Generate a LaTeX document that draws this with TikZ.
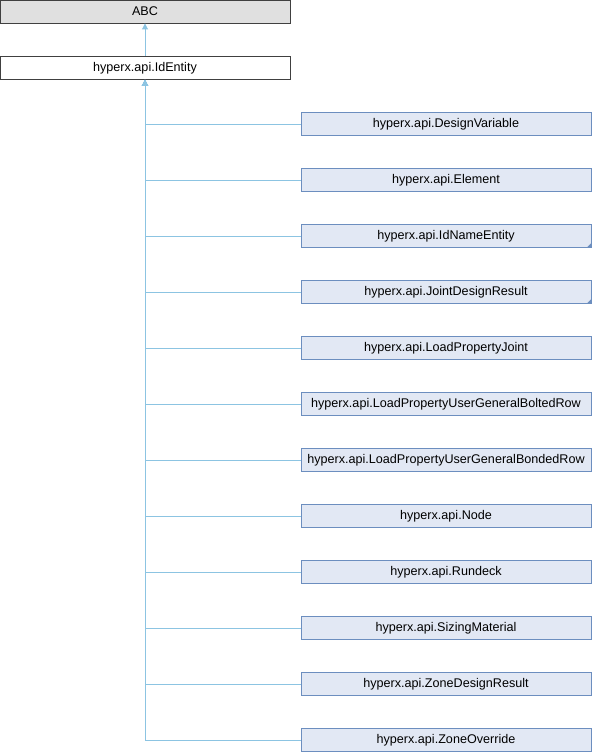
\documentclass[tikz,border=0pt]{standalone}
\usepackage{fontspec}
\setmainfont{Liberation Sans}
\usetikzlibrary{arrows.meta}
\definecolor{boxfill}{HTML}{E2E8F4}
\definecolor{boxline}{HTML}{6C8EBF}
\definecolor{edgeblue}{HTML}{8CC4E2}
\begin{document}
\begin{tikzpicture}[x=1pt,y=-1pt,
		cls/.style={draw=boxline,fill=boxfill,line width=0.9pt,minimum width=290pt,minimum height=23pt,inner sep=0pt,text height=9pt,text depth=1.4pt,font=\fontsize{12.6}{13}\selectfont},
		base/.style={cls,draw=black!75,fill=white},
		ext/.style={cls,draw=black!75,fill=black!12},
		inh/.style={draw=edgeblue,line width=0.9pt,{Triangle[length=6pt,width=6pt]}-}]
		\useasboundingbox (0,0) rectangle (592,752);

		\node[ext] (abc) at (145,11.5) {ABC};
		\node[base] (idEntity) at (145,68) {hyperx.api.IdEntity};
		\draw[inh] (abc) -- (idEntity);

		\node[cls] (designVariable) at (446,124) {hyperx.api.DesignVariable};
		\node[cls] (element) at (446,180) {hyperx.api.Element};
		\node[cls] (idNameEntity) at (446,236) {hyperx.api.IdNameEntity};
		\node[cls] (jointDesignResult) at (446,292) {hyperx.api.JointDesignResult};
		\node[cls] (loadPropertyJoint) at (446,348) {hyperx.api.LoadPropertyJoint};
		\node[cls] (boltedRow) at (446,404) {hyperx.api.LoadPropertyUserGeneralBoltedRow};
		\node[cls] (bondedRow) at (446,460) {hyperx.api.LoadPropertyUserGeneralBondedRow};
		\node[cls] (node) at (446,516) {hyperx.api.Node};
		\node[cls] (rundeck) at (446,572) {hyperx.api.Rundeck};
		\node[cls] (sizingMaterial) at (446,628) {hyperx.api.SizingMaterial};
		\node[cls] (zoneDesignResult) at (446,684) {hyperx.api.ZoneDesignResult};
		\node[cls] (zoneOverride) at (446,740) {hyperx.api.ZoneOverride};

		% more derived classes
		\fill[boxline] ([xshift=-5pt]idNameEntity.south east) -- (idNameEntity.south east) -- ([yshift=5pt]idNameEntity.south east) -- cycle;
		\fill[boxline] ([xshift=-5pt]jointDesignResult.south east) -- (jointDesignResult.south east) -- ([yshift=5pt]jointDesignResult.south east) -- cycle;

		\draw[inh] (idEntity) |- (designVariable);
		\draw[inh] (idEntity) |- (element);
		\draw[inh] (idEntity) |- (idNameEntity);
		\draw[inh] (idEntity) |- (jointDesignResult);
		\draw[inh] (idEntity) |- (loadPropertyJoint);
		\draw[inh] (idEntity) |- (boltedRow);
		\draw[inh] (idEntity) |- (bondedRow);
		\draw[inh] (idEntity) |- (node);
		\draw[inh] (idEntity) |- (rundeck);
		\draw[inh] (idEntity) |- (sizingMaterial);
		\draw[inh] (idEntity) |- (zoneDesignResult);
		\draw[inh] (idEntity) |- (zoneOverride);
	\end{tikzpicture}
\end{document}
